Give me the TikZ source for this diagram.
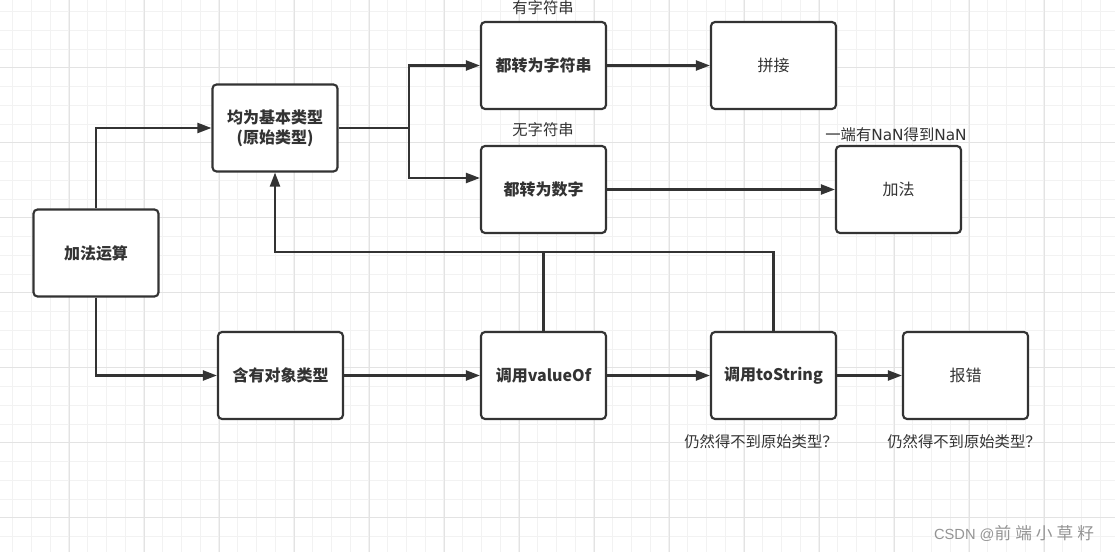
\documentclass[tikz,border=0pt]{standalone}
\usepackage{fontspec}
\setmainfont{Noto Sans CJK SC}
\newfontfamily\latinwide{DejaVu Sans}
\newfontfamily\arialish{Liberation Sans}
\usetikzlibrary{arrows.meta,calc}
\definecolor{ink}{HTML}{333333}
\definecolor{gridminor}{HTML}{F2F2F2}
\definecolor{gridmajor}{HTML}{E3E3E3}
\begin{document}
\begin{tikzpicture}[x=0.75pt,y=-0.75pt,
  box/.style={draw=ink,line width=1.6pt,rounded corners=3pt,fill=white,
    minimum width=93.75pt,minimum height=65.25pt,align=center,text=ink,
    font=\fontsize{12pt}{15pt}\selectfont,inner sep=2pt},
  boldbox/.style={box,font=\fontsize{12pt}{15pt}\selectfont\bfseries},
  lbl/.style={text=ink,font=\fontsize{11.5pt}{13pt}\selectfont,inner sep=0pt},
  conn/.style={draw=ink,line width=1.6pt},
  arr/.style={conn,-{Triangle[length=10.5pt,width=7.5pt]}}]
\fill[white] (0,0) rectangle (1115,552);
\useasboundingbox (0,0) rectangle (1115,552);
\foreach \k in {0,...,59} {
  \pgfmathsetmacro{\xx}{12.5+18.75*\k}
  \draw[gridminor,line width=0.75pt] (\xx,0) -- (\xx,552);
}
\foreach \k in {0,...,29} {
  \pgfmathsetmacro{\yy}{11.7+18.75*\k}
  \draw[gridminor,line width=0.75pt] (0,\yy) -- (1115,\yy);
}
\foreach \k in {0,...,14} {
  \pgfmathsetmacro{\xx}{69+75*\k}
  \draw[gridmajor,line width=0.75pt] (\xx,0) -- (\xx,552);
}
\foreach \k in {0,...,7} {
  \pgfmathsetmacro{\yy}{67.7+75*\k}
  \draw[gridmajor,line width=0.75pt] (0,\yy) -- (1115,\yy);
}
% nodes
\node[boldbox] (add) at (96,253) {加法运算};
\node[boldbox] (prim) at (275,128) {均为基本类型\\(原始类型)};
\node[boldbox] (str) at (543.5,65.5) {都转为字符串};
\node[box] (concat) at (773.5,65.5) {拼接};
\node[boldbox] (num) at (543.5,189.5) {都转为数字};
\node[box] (plus) at (898.5,189.5) {加法};
\node[boldbox] (obj) at (280.5,375.5) {含有对象类型};
\node[boldbox] (valof) at (543.5,375.5) {调用valueOf};
\node[boldbox] (tostr) at (773.5,375.5) {调用toString};
\node[box] (err) at (965.5,375.5) {报错};
% labels
\node[lbl] (l1) at (543,8) {有字符串};
\node[lbl] (l2) at (543,130) {无字符串};
\node[lbl] (l3) at (896,135) {一端有{\latinwide NaN}得到{\latinwide NaN}};
\node[lbl] (l4) at (761,442) {仍然得不到原始类型？};
\node[lbl] (l5) at (964,442) {仍然得不到原始类型？};
\node[text=black!42,inner sep=0pt] (wm) at (1014,533)
  {{\arialish\fontsize{11pt}{13pt}\selectfont CSDN @}{\fontsize{12.5pt}{14pt}\selectfont 前\hspace{3pt}端\hspace{3pt}小\hspace{3pt}草\hspace{3pt}籽}};
% connectors
\coordinate (fork) at (409,128);
\coordinate (jv) at (543.5,252);
\coordinate (jt) at (773.5,252);
\coordinate (jp) at (275,252);
\draw[arr] (add.north) |- (prim.west);
\draw[arr] (add.south) |- (obj.west);
\draw[conn] (prim.east) -- (fork);
\draw[arr] (fork) |- (str.west);
\draw[arr] (fork) |- (num.west |- {(0,178)});
\draw[arr] (str.east) -- (concat.west);
\draw[arr] (num.east) -- (plus.west);
\draw[arr] (obj.east) -- (valof.west);
\draw[arr] (valof.east) -- (tostr.west);
\draw[arr] (tostr.east) -- (err.west);
\draw[conn] (valof.north) -- (jv);
\draw[arr] (tostr.north) -- (jt) -- (jp) -- (prim.south);
\end{tikzpicture}
\end{document}
